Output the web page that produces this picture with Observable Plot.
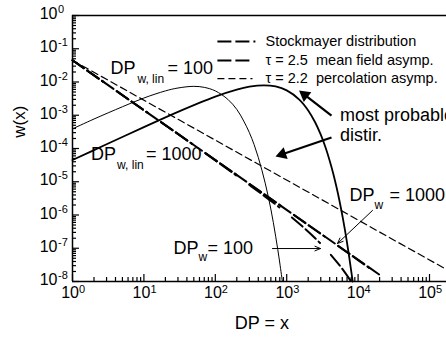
<!DOCTYPE html>
<html><head><meta charset="utf-8">
<script src="https://cdn.jsdelivr.net/npm/d3@7"></script>
<script src="https://cdn.jsdelivr.net/npm/@observablehq/plot@0.6"></script>
<style>
body{margin:0;background:#fff}
#chart svg{font-family:"Liberation Sans",Arial,Helvetica,sans-serif;overflow:hidden}
</style>
</head><body><div id="chart"></div>
<script>
// most probable distribution, DP_w,lin = 100 (thin solid)
const thinX = [1,2,5,10,20,30,50,70,100,150,200,250,300,350,400,450,500,550,600,650,700,750,800,870];
const thinW = [3.9e-4,7.7e-4,1.8e-3,3.3e-3,5.4e-3,6.6e-3,7.4e-3,6.9e-3,5.4e-3,3.0e-3,1.5e-3,6.7e-4,3.0e-4,1.3e-4,5.4e-5,2.2e-5,9.1e-6,3.7e-6,1.5e-6,5.9e-7,2.3e-7,9.2e-8,3.6e-8,1.0e-8];
// most probable distribution, DP_w,lin = 1000 (thick solid)
const thickX = [1,3,10,30,100,200,300,480,700,1000,1500,2000,2500,3000,3500,4000,4500,5000,5500,6000,6500,7000,7500,8000,8400];
const thickW = [4.5e-5,1.34e-4,4.4e-4,1.27e-3,3.65e-3,5.93e-3,7.23e-3,7.95e-3,7.33e-3,5.6e-3,2.97e-3,1.4e-3,6.15e-4,2.6e-4,1.07e-4,4.3e-5,1.72e-5,6.7e-6,2.6e-6,1.0e-6,3.85e-7,1.46e-7,5.5e-8,2.08e-8,1.0e-8];
// tau = 2.5 mean field asymptote
const mfX = [1, 20000];
const mfW = [0.045, 1.59e-8];
// tau = 2.2 percolation asymptote
const percX = [1, 173000];
const percW = [0.045, 2.3e-8];
// Stockmayer distribution, DP_w = 100
const stock100X = [1,10,100,316,562,1000,1778,3162,5623,8000];
const stock100W = [0.045,1.42e-3,4.4e-5,7.4e-6,2.96e-6,1.13e-6,3.96e-7,1.21e-7,2.88e-8,1.0e-8];
// Stockmayer distribution, DP_w = 1000
const stock1000X = [1,100,1000,5000,10000,20000];
const stock1000W = [0.045,4.5e-5,1.42e-6,1.26e-7,4.4e-8,1.52e-8];

const xExps = ["0","1","2","3","4","5"];
const yExps = ["0","-1","-2","-3","-4","-5","-6","-7","-8"];
const legendLabels = ["Stockmayer distribution","\u03c4 = 2.5\u00a0 mean field asymp.","\u03c4 = 2.2\u00a0 percolation asymp."];
const legendY = [0.165, 0.0443, 0.0127];
const legendEnd = [378, 311, 332];

const xMajor = xExps.map(e => 10 ** +e);
const yMajor = yExps.map(e => 10 ** +e);
const xMinor = xMajor.flatMap(d => d3.range(2, 10).map(k => k * d)).filter(v => v < 173000);
const yMinor = yMajor.slice(1).flatMap(d => d3.range(2, 10).map(k => k * d));

const W = 446, H = 341, ML = 72, MT = 15, MB = 60;
const frameW = W - ML, frameH = H - MT - MB;
const font = 18;
const styles = {
  stock: {stroke: "#000", strokeWidth: 2, strokeDasharray: "14,4,14,4,2,16"},
  mf: {stroke: "#000", strokeWidth: 2, strokeDasharray: "14,4"},
  perc: {stroke: "#000", strokeWidth: 1.2, strokeDasharray: "7,4"}
};
const legendStyle = [styles.stock, styles.mf, styles.perc];

const plot = Plot.plot({
  width: W, height: H,
  marginLeft: ML, marginTop: MT, marginRight: 0, marginBottom: MB,
  x: {type: "log", domain: [1, 173000], axis: null},
  y: {type: "log", domain: [1e-8, 1], axis: null},
  style: {fontFamily: '"Liberation Sans", Arial, Helvetica, sans-serif', background: "#fff"},
  marks: [
    // curves
    Plot.line(thinX, {x: thinX, y: thinW, stroke: "#000", strokeWidth: 1, curve: "catmull-rom"}),
    Plot.line(thickX, {x: thickX, y: thickW, stroke: "#000", strokeWidth: 1.8, curve: "catmull-rom"}),
    Plot.line(percX, {x: percX, y: percW, ...styles.perc}),
    Plot.line(mfX, {x: mfX, y: mfW, ...styles.mf}),
    Plot.line(stock100X, {x: stock100X, y: stock100W, curve: "catmull-rom", ...styles.stock}),
    Plot.line(stock1000X, {x: stock1000X, y: stock1000W, curve: "catmull-rom", ...styles.stock}),
    // legend
    ...legendLabels.map((t, i) => Plot.link([0], {x1: 107, x2: legendEnd[i], y1: legendY[i], y2: legendY[i], ...legendStyle[i]})),
    Plot.text(legendLabels, {x: 505, y: legendY, text: d => d, textAnchor: "start", fontSize: 14.5, fill: "#000"}),
    // frame
    Plot.ruleY([1e-8], {stroke: "#000", strokeWidth: 1.5}),
    Plot.ruleY([1], {stroke: "#000", strokeWidth: 1.5}),
    Plot.ruleX([1], {stroke: "#000", strokeWidth: 1.5}),
    // ticks (inward)
    Plot.tickX(xMajor, {x: d => d, insetTop: frameH - 7, stroke: "#000", strokeWidth: 1.2}),
    Plot.tickX(xMinor, {x: d => d, insetTop: frameH - 4, stroke: "#000", strokeWidth: 1.2}),
    Plot.tickY(yMajor, {y: d => d, insetRight: frameW - 7, stroke: "#000", strokeWidth: 1.2}),
    Plot.tickY(yMinor, {y: d => d, insetRight: frameW - 4, stroke: "#000", strokeWidth: 1.2}),
    // tick labels with superscript exponents
    Plot.text(xExps, {x: d => 10 ** +d, frameAnchor: "bottom", dy: 16, dx: 6.5, text: () => "10", textAnchor: "end", fontSize: 16, fill: "#000"}),
    Plot.text(xExps, {x: d => 10 ** +d, frameAnchor: "bottom", dy: 11, dx: 6.5, text: d => d, textAnchor: "start", fontSize: 11, fill: "#000"}),
    Plot.text(yExps, {y: d => 10 ** +d, frameAnchor: "left", dx: -15, dy: -1.5, text: () => "10", textAnchor: "end", fontSize: 16, fill: "#000"}),
    Plot.text(yExps, {y: d => 10 ** +d, frameAnchor: "left", dx: -14.5, dy: -6, text: d => d, textAnchor: "start", fontSize: 11, fill: "#000"}),
    // axis titles
    Plot.text(["DP = x"], {x: 450, frameAnchor: "bottom", dy: 47, fontSize: 18, fill: "#000"}),
    Plot.text(["w(x)"], {y: 2.1e-4, frameAnchor: "left", dx: -53, rotate: -90, fontSize: 17, fill: "#000"}),
    // annotations: DP_w,lin = 100
    Plot.text(["DP"], {x: 3.4, y: 0.0255, textAnchor: "start", fontSize: font, fill: "#000"}),
    Plot.text(["w, lin"], {x: 3.4, y: 0.0255, dx: 27, dy: 11, textAnchor: "start", fontSize: 12, fill: "#000"}),
    Plot.text(["= 100"], {x: 3.4, y: 0.0255, dx: 57, textAnchor: "start", fontSize: font, fill: "#000"}),
    // DP_w,lin = 1000
    Plot.text(["DP"], {x: 1.82, y: 6.6e-5, textAnchor: "start", fontSize: font, fill: "#000"}),
    Plot.text(["w, lin"], {x: 1.82, y: 6.6e-5, dx: 26, dy: 11, textAnchor: "start", fontSize: 12, fill: "#000"}),
    Plot.text(["= 1000"], {x: 1.82, y: 6.6e-5, dx: 55, textAnchor: "start", fontSize: font, fill: "#000"}),
    // DP_w = 100
    Plot.text(["DP"], {x: 26, y: 1.0e-7, textAnchor: "start", fontSize: font, fill: "#000"}),
    Plot.text(["w"], {x: 26, y: 1.0e-7, dx: 25, dy: 9, textAnchor: "start", fontSize: 12, fill: "#000"}),
    Plot.text(["= 100"], {x: 26, y: 1.0e-7, dx: 34, textAnchor: "start", fontSize: font, fill: "#000"}),
    // DP_w = 1000
    Plot.text(["DP"], {x: 7580, y: 3.9e-6, textAnchor: "start", fontSize: font, fill: "#000"}),
    Plot.text(["w"], {x: 7580, y: 3.9e-6, dx: 25, dy: 10, textAnchor: "start", fontSize: 12, fill: "#000"}),
    Plot.text(["= 1000"], {x: 7580, y: 3.9e-6, dx: 40, textAnchor: "start", fontSize: font, fill: "#000"}),
    // most probable distir.
    Plot.text(["most probable"], {x: 5560, y: 1.0e-3, textAnchor: "start", fontSize: font, fill: "#000"}),
    Plot.text(["distir."], {x: 5560, y: 2.5e-4, textAnchor: "start", fontSize: font, fill: "#000"}),
    // arrows with filled heads
    Plot.link([0, 1], {x1: [4240, 4240], y1: [9.8e-4, 2.14e-4], x2: [1787, 867], y2: [4.09e-3, 6.74e-5], stroke: "#000", strokeWidth: 2.2}),
    Plot.dot([0, 1], {x: [1787, 867], y: [4.09e-3, 6.74e-5], symbol: "triangle", r: 4.6, rotate: [-52.5, -108.8], fill: "#000", stroke: "none"}),
    // thin arrows
    Plot.arrow([0, 1], {x1: [632, 15920], y1: [9.8e-8, 1.37e-6], x2: [2974, 5145], y2: [9.8e-8, 1.39e-7], stroke: "#000", strokeWidth: 1, headLength: 9, headAngle: 45})
  ]
});
document.getElementById("chart").appendChild(plot);
</script>
</body></html>
